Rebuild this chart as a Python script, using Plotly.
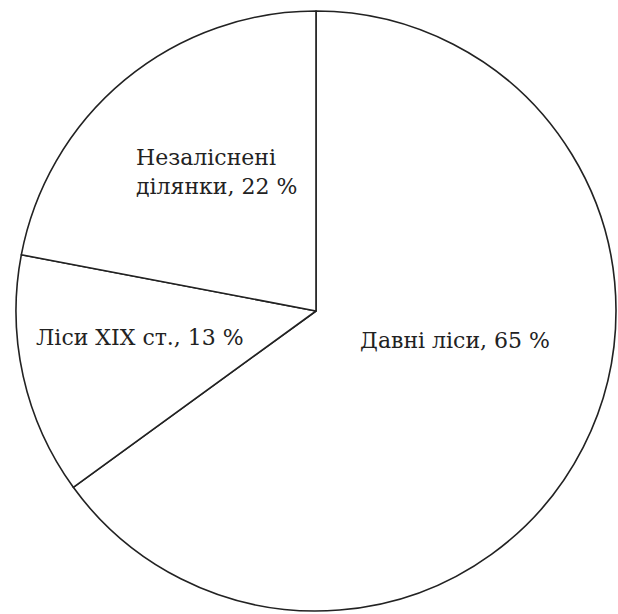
import plotly.graph_objects as go

labels = ["Давні ліси", "Ліси XIX ст.", "Незаліснені<br>ділянки"]
values = [65, 13, 22]
label_x = [358, 34, 134]
label_y = [340, 337, 172]

W, H = 618, 614
fig = go.Figure(go.Pie(
    labels=labels,
    values=values,
    sort=False,
    direction="clockwise",
    rotation=0,
    marker=dict(colors=["white"] * 3, line=dict(color="#222222", width=1.6)),
    textinfo="none",
    hoverinfo="label+value",
    showlegend=False,
    domain=dict(x=[16 / W, 616 / W], y=[(H - 612) / H, (H - 10) / H]),
))

for lab, v, x, y in zip(labels, values, label_x, label_y):
    fig.add_annotation(
        x=x / W, y=1 - y / H, xref="paper", yref="paper",
        text=f"{lab}, {v} %", showarrow=False,
        font=dict(family="DejaVu Serif", size=22, color="#222222"),
        xanchor="left", yanchor="middle", align="left",
    )

fig.update_layout(
    width=W, height=H,
    margin=dict(l=0, r=0, t=0, b=0),
    paper_bgcolor="white", plot_bgcolor="white",
)
fig.write_html("out.html", config={"displayModeBar": False},
               post_script="document.body.style.margin='0';")
